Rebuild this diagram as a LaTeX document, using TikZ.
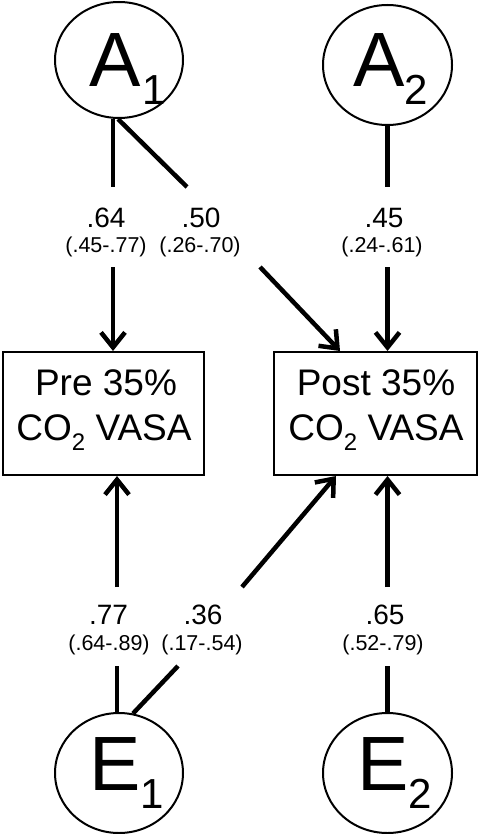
\documentclass[tikz,border=0pt]{standalone}
\usepackage{fontspec}
\setmainfont{Liberation Sans}
\usetikzlibrary{shapes.geometric,arrows.meta,calc}
\begin{document}
\begin{tikzpicture}[x=1pt,y=-1pt,
  latent/.style={draw, ellipse, line width=2pt, inner sep=0pt},
  obsbox/.style={draw, rectangle, line width=2pt, inner sep=0pt},
  bigtxt/.style={inner sep=0pt, anchor=base west, font=\fontsize{77}{77}\selectfont},
  boxtxt/.style={inner sep=0pt, anchor=base, font=\fontsize{37}{45}\selectfont},
  coef/.style={inner sep=0pt, anchor=base, font=\fontsize{28}{28}\selectfont},
  ci/.style={inner sep=0pt, anchor=base, font=\fontsize{21.5}{21.5}\selectfont},
  link/.style={line width=4.5pt},
  arr/.style={line width=4.5pt, -{Straight Barb[length=15pt,width=24pt]}}]
\useasboundingbox (0,0) rectangle (478,834);
\fill[white] (0,0) rectangle (478,834);

% latent variables
\node[latent, minimum width=128pt, minimum height=116pt] (A1) at (119,60) {};
\node[latent, minimum width=129pt, minimum height=120pt] (A2) at (387.5,65) {};
\node[latent, minimum width=128pt, minimum height=120pt] (E1) at (119,773) {};
\node[latent, minimum width=129pt, minimum height=120pt] (E2) at (387.5,773) {};

\node[bigtxt] (tA1) at (89,87) {A\kern2pt\raisebox{-18pt}{\fontsize{42}{42}\selectfont 1}};
\node[bigtxt] (tA2) at (353,87) {A\raisebox{-18pt}{\fontsize{42}{42}\selectfont 2}};
\node[bigtxt] (tE1) at (89,790) {E\raisebox{-18pt}{\fontsize{42}{42}\selectfont 1}};
\node[bigtxt] (tE2) at (357,790) {E\raisebox{-18pt}{\fontsize{42}{42}\selectfont 2}};

% observed boxes
\node[obsbox, minimum width=201pt, minimum height=123pt] (pre) at (103.5,413.5) {};
\node[obsbox, minimum width=203pt, minimum height=123pt] (post) at (375,413.5) {};
\node[boxtxt] (tpre1) at (106,395) {Pre 35\%};
\node[boxtxt] (tpre2) at (104,440) {CO\raisebox{-10pt}{\fontsize{24}{24}\selectfont 2} VASA};
\node[boxtxt] (tpost1) at (376,395) {Post 35\%};
\node[boxtxt] (tpost2) at (376,440) {CO\raisebox{-10pt}{\fontsize{24}{24}\selectfont 2} VASA};

% coefficient labels
\node[coef] (c64) at (106,227) {.64};
\node[ci] (i64) at (106,252) {(.45-.77)};
\node[coef] (c50) at (201,227) {.50};
\node[ci] (i50) at (200,252) {(.26-.70)};
\node[coef] (c45) at (384,227) {.45};
\node[ci] (i45) at (382,252) {(.24-.61)};
\node[coef] (c77) at (108.5,624) {.77};
\node[ci] (i77) at (109,650) {(.64-.89)};
\node[coef] (c36) at (203,624) {.36};
\node[ci] (i36) at (202,650) {(.17-.54)};
\node[coef] (c65) at (385,624) {.65};
\node[ci] (i65) at (383,650) {(.52-.79)};

% gap coordinates
\coordinate (g1a) at (113,187);
\coordinate (g1b) at (113,267);
\coordinate (g2a) at (187,187);
\coordinate (g2b) at (260,267);
\coordinate (g3a) at (387.5,187);
\coordinate (g3b) at (387.5,267);
\coordinate (g4a) at (117,666);
\coordinate (g4b) at (117,587);
\coordinate (g5a) at (178,666);
\coordinate (g5b) at (242,587);
\coordinate (g6a) at (387.5,666);
\coordinate (g6b) at (387.5,587);

% connectors from A
\draw[link] (A1.south -| g1a) -- (g1a);
\draw[arr] (g1b) -- (pre.north -| g1b);
\draw[link] ([xshift=-1pt]A1.south) -- (g2a);
\draw[arr] (g2b) -- ([xshift=-35pt]post.north);
\draw[link] (A2.south) -- (g3a);
\draw[arr] (g3b) -- (post.north -| g3b);

% connectors from E
\draw[link] (E1.north -| g4a) -- (g4a);
\draw[arr] (g4b) -- (pre.south -| g4b);
\draw[link] ($(E1.north)+(14,1.5)$) -- (g5a);
\draw[arr] (g5b) -- ([xshift=-39pt]post.south);
\draw[link] (E2.north) -- (g6a);
\draw[arr] (g6b) -- (post.south -| g6b);
\end{tikzpicture}
\end{document}
